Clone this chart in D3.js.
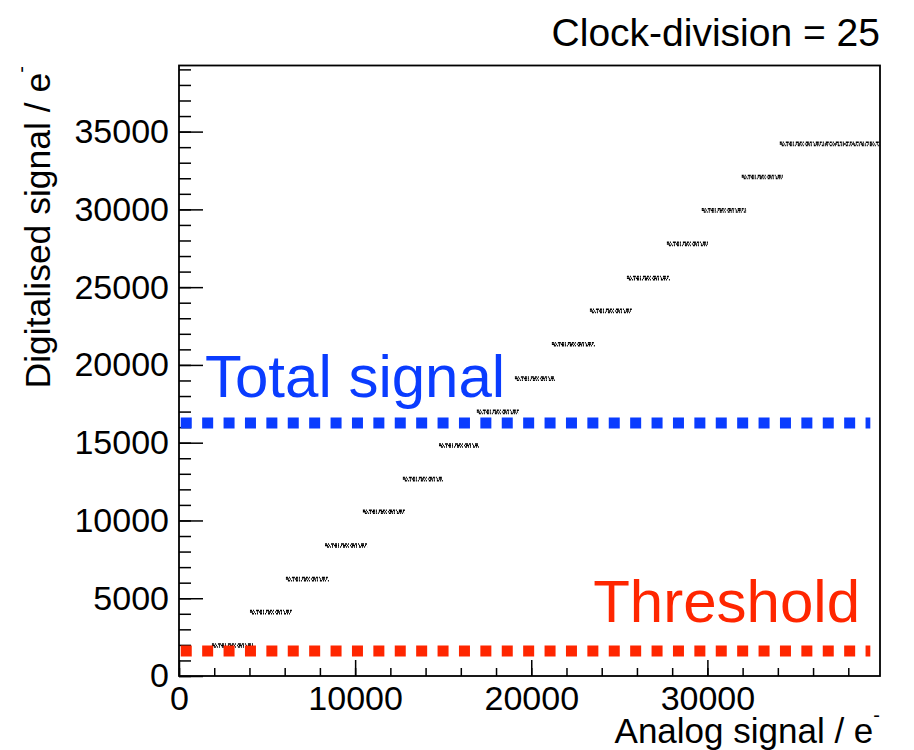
<!DOCTYPE html>
<html>
<head>
<meta charset="utf-8">
<script src="https://cdn.jsdelivr.net/npm/d3@7"></script>
<style>
  body { margin: 0; background: #fff; }
  svg { font-family: "Liberation Sans", Arial, Helvetica, sans-serif; }
</style>
</head>
<body>
<div id="chart"></div>
<script>
//------------------------------ DATA ------------------------------------------
// each step of the digitised signal: analog range (start, end) and output level
var segStart = [1870, 4030, 6070, 8290, 10440, 12710, 14760, 16910, 19070, 21170, 23330, 25430, 27700, 29680, 31950, 34110];
var segEnd   = [4200, 6410, 8510, 10680, 12830, 14980, 17030, 19300, 21340, 23610, 25710, 27870, 30030, 32240, 34280, 39730];
var segLevel = [1960, 4110, 6230, 8390, 10560, 12660, 14820, 16980, 19120, 21330, 23470, 25580, 27780, 29940, 32080, 34210];

// reference lines
var lineNames  = ["Total signal", "Threshold"];
var lineValues = [16260, 1610];
var lineColors = ["#0a3cff", "#ff2600"];

var xTicks = [0, 10000, 20000, 30000];
var yTicks = [0, 5000, 10000, 15000, 20000, 25000, 30000, 35000];

//------------------------------ SET-UP ----------------------------------------
var width = 914;
var height = 750;
var frameL = 179, frameR = 880, frameT = 65.5, frameB = 676;

var svg = d3.select("#chart").append("svg")
    .attr("width", width)
    .attr("height", height);

var xScale = d3.scaleLinear().domain([0, 39800]).range([frameL, frameR]);
var yScale = d3.scaleLinear().domain([0, 39250]).range([frameB, frameT]);

//------------------------------ AXES ------------------------------------------
// minor ticks first
svg.append("g")
    .attr("transform", "translate(" + frameL + ",0)")
    .call(d3.axisLeft(yScale).tickValues(d3.range(0, 39001, 1000)).tickSize(-12).tickFormat(""))
    .call(function(g) { g.select(".domain").remove(); });
svg.append("g")
    .attr("transform", "translate(0," + frameB + ")")
    .call(d3.axisBottom(xScale).tickValues(d3.range(0, 39001, 2000)).tickSize(-8).tickFormat(""))
    .call(function(g) { g.select(".domain").remove(); });

var yAxis = svg.append("g")
    .attr("transform", "translate(" + frameL + ",0)")
    .call(d3.axisLeft(yScale).tickValues(yTicks).tickSize(-24).tickPadding(10).tickFormat(d3.format("d")));
yAxis.select(".domain").remove();
yAxis.selectAll("text").style("font-size", "34px").attr("fill", "#000");

var xAxis = svg.append("g")
    .attr("transform", "translate(0," + frameB + ")")
    .call(d3.axisBottom(xScale).tickValues(xTicks).tickSize(-16).tickPadding(10).tickFormat(d3.format("d")));
xAxis.select(".domain").remove();
xAxis.selectAll("text").style("font-size", "34px").attr("fill", "#000");

svg.selectAll(".tick line").attr("stroke", "#000").attr("stroke-width", 1.5);

// frame
svg.append("rect")
    .attr("x", frameL).attr("y", frameT)
    .attr("width", frameR - frameL).attr("height", frameB - frameT)
    .attr("fill", "none").attr("stroke", "#000").attr("stroke-width", 1.8);

//------------------------------ DATA STEPS ------------------------------------
var steps = segLevel.map(function(v, i) {
    return { x0: segStart[i], x1: segEnd[i], y: v };
});
// speckled look of the dense points: offset rows of short dashes
var rows = [
    [-1.6, "2,1,1,2,3,1", 0],
    [0, "1,1,3,1,1,2", 2],
    [1.6, "1,2,2,1,1,1", 1]
];
rows.forEach(function(row) {
    svg.append("g").selectAll("line")
        .data(steps)
        .enter()
        .append("line")
        .attr("x1", function(d) { return xScale(d.x0); })
        .attr("x2", function(d) { return xScale(d.x1); })
        .attr("y1", function(d) { return yScale(d.y) + row[0]; })
        .attr("y2", function(d) { return yScale(d.y) + row[0]; })
        .attr("stroke", "#000")
        .attr("stroke-width", 1.5)
        .attr("stroke-dasharray", row[1])
        .attr("stroke-dashoffset", row[2]);
});

//------------------------------ REFERENCE LINES -------------------------------
svg.append("g").selectAll("line")
    .data(lineValues)
    .enter()
    .append("line")
    .attr("x1", xScale(100))
    .attr("x2", xScale(39250))
    .attr("y1", function(d) { return yScale(d); })
    .attr("y2", function(d) { return yScale(d); })
    .attr("stroke", function(d, i) { return lineColors[i]; })
    .attr("stroke-width", 11)
    .attr("stroke-dasharray", "11,10.4");

svg.append("text")
    .attr("x", 205).attr("y", 397)
    .style("font-size", "60px")
    .attr("fill", lineColors[0])
    .text(lineNames[0]);

svg.append("text")
    .attr("x", 860).attr("y", 622)
    .attr("text-anchor", "end")
    .style("font-size", "60px")
    .attr("fill", lineColors[1])
    .text(lineNames[1]);

//------------------------------ TITLES ----------------------------------------
svg.append("text")
    .attr("x", 880).attr("y", 46)
    .attr("text-anchor", "end")
    .style("font-size", "39px")
    .text("Clock-division = 25");

var xt = svg.append("text")
    .attr("x", 880).attr("y", 743)
    .attr("text-anchor", "end")
    .style("font-size", "35px")
    .text("Analog signal / e");
xt.append("tspan").attr("dy", -21).style("font-size", "20px").text("-");

var yt = svg.append("text")
    .attr("transform", "translate(50,66) rotate(-90)")
    .attr("text-anchor", "end")
    .style("font-size", "35.5px")
    .text("Digitalised signal / e");
yt.append("tspan").attr("dy", -22).style("font-size", "20px").text("-");
</script>
</body>
</html>
